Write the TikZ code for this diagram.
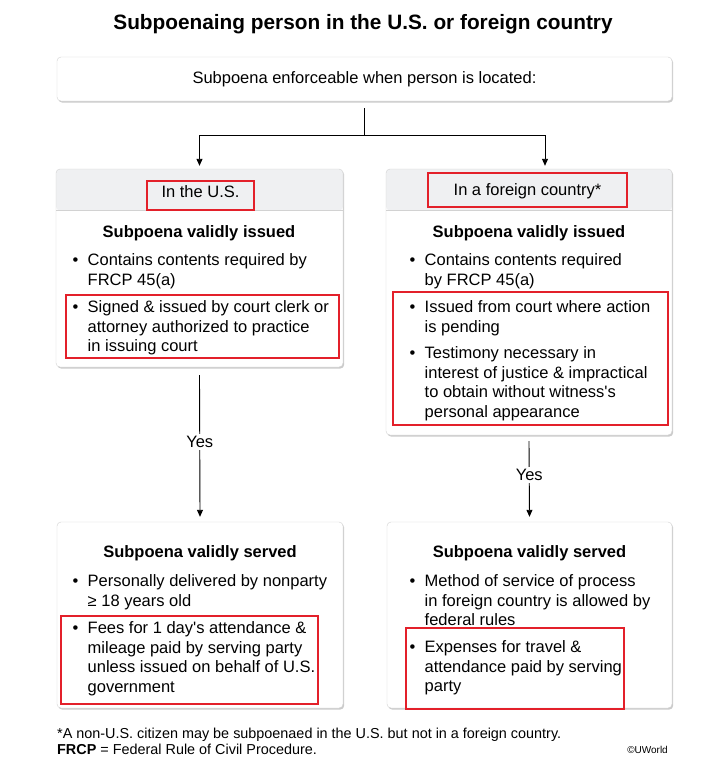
\documentclass[tikz,border=0pt]{standalone}
\usepackage{fontspec}
\setmainfont{Liberation Sans}
\usetikzlibrary{arrows.meta,shadows,positioning}

\definecolor{redframe}{HTML}{E3202A}
\definecolor{boxline}{HTML}{D2D2D2}
\definecolor{headfill}{HTML}{EFF0F2}

\newcommand{\bodyfont}{\fontsize{16.5}{19.5}\selectfont}
\newcommand{\bul}{\makebox[15pt][l]{\textbullet}}
\newcommand{\ind}{\hspace*{15pt}}

\tikzset{
  card/.style={draw=boxline, fill=white, rounded corners=4pt, inner sep=0pt,
    drop shadow={shadow xshift=1.2pt, shadow yshift=-1.6pt, fill=black!45, opacity=.45}},
  headcard/.style={card, path picture={
      \fill[headfill] (path picture bounding box.north west) rectangle
        ([yshift=-41.5pt]path picture bounding box.north east);
      \draw[boxline] ([yshift=-41.5pt]path picture bounding box.north west) --
        ([yshift=-41.5pt]path picture bounding box.north east);}},
  cardtitle/.style={anchor=base, font=\bodyfont\bfseries, inner sep=0pt},
  itemtext/.style={anchor=north west, inner sep=0pt, align=left},
  redbox/.style={draw=redframe, line width=1.5pt},
  line/.style={draw, line width=.9pt},
  arrow/.style={line, -{Triangle[length=7pt,width=6pt]}},
  yeslabel/.style={fill=white, inner sep=2pt}
}

\begin{document}
\begin{tikzpicture}[x=1pt, y=-1pt, font=\bodyfont]
  \useasboundingbox (0,0) rectangle (717,772);

  % title
  \node (title) at (363,24) {\fontsize{20.8}{24}\selectfont\bfseries Subpoenaing person in the U.S. or foreign country};

  % boxes
  \node[card, minimum width=615pt, minimum height=44pt] (top) at (364.5,79)
    {Subpoena enforceable when person is located:};
  \node[headcard, minimum width=287pt, minimum height=198pt] (us) at (199.5,268) {};
  \node[headcard, minimum width=286pt, minimum height=266pt] (foreign) at (529,302) {};
  \node[card, minimum width=286pt, minimum height=186pt] (usserved) at (200,615) {};
  \node[card, minimum width=285pt, minimum height=186pt] (foreignserved) at (529.5,615) {};

  % left column
  \node (ushead) at (200.5,192) {In the U.S.};
  \node[cardtitle] (usissued) at (199,237) {Subpoena validly issued};
  \node[itemtext] (usa) at (72.5,252) {\strut\bul Contains contents required by\\\ind FRCP 45(a)};
  \node[itemtext] (usb) at (72.5,299) {\strut\bul Signed \& issued by court clerk or\\\ind attorney authorized to practice\\\ind in issuing court};
  \node[cardtitle] (ussvd) at (200,557) {Subpoena validly served};
  \node[itemtext] (usc) at (72.5,573) {\strut\bul Personally delivered by nonparty\\\ind ≥ 18 years old};
  \node[itemtext] (usd) at (72.5,620) {\strut\bul Fees for 1 day\textquotesingle s attendance \&\\\ind mileage paid by serving party\\\ind unless issued on behalf of U.S.\\\ind government};

  % right column
  \node (fhead) at (527.5,191) {In a foreign country*};
  \node[cardtitle] (fissued) at (529,237) {Subpoena validly issued};
  \node[itemtext] (fa) at (409.5,252) {\strut\bul Contains contents required\\\ind by FRCP 45(a)};
  \node[itemtext] (fb) at (409.5,299) {\strut\bul Issued from court where action\\\ind is pending};
  \node[itemtext] (fc) at (409.5,345) {\strut\bul Testimony necessary in\\\ind interest of justice \& impractical\\\ind to obtain without witness\textquotesingle s\\\ind personal appearance};
  \node[cardtitle] (fsvd) at (529.5,557) {Subpoena validly served};
  \node[itemtext] (fd) at (409.5,573) {\strut\bul Method of service of process\\\ind in foreign country is allowed by\\\ind federal rules};
  \node[itemtext] (fe) at (409.5,639) {\strut\bul Expenses for travel \&\\\ind attendance paid by serving\\\ind party};

  % red highlight frames
  \draw[redbox] (147,181) rectangle (254,210);
  \draw[redbox] (66,295) rectangle (339,358);
  \draw[redbox] (428,173) rectangle (627,207);
  \draw[redbox] (393,292) rectangle (668,425);
  \draw[redbox] (61,616) rectangle (318,704);
  \draw[redbox] (406,628) rectangle (624,709);

  % connectors
  \coordinate (split) at (364.5,135);
  \draw[line] ([yshift=-7pt]top.south) -- (split);
  \draw[arrow] (split) -| ([yshift=3pt]us.north);
  \draw[arrow] (split) -| ([xshift=16pt,yshift=3pt]foreign.north);
  \draw[arrow] ([yshift=-8pt]us.south) -- node[yeslabel, pos=.47] {Yes} ([yshift=5pt]usserved.north);
  \draw[arrow] ([yshift=-6pt]foreign.south) -- node[yeslabel, pos=.45] {Yes} ([yshift=5pt]foreignserved.north);

  % notes
  \node[anchor=base west, inner sep=0pt, font=\fontsize{14.4}{16.5}\selectfont] (note1) at (57,738)
    {*A non-U.S. citizen may be subpoenaed in the U.S. but not in a foreign country.};
  \node[anchor=base west, inner sep=0pt, font=\fontsize{14.4}{16.5}\selectfont] (note2) at (57,754)
    {\textbf{FRCP} = Federal Rule of Civil Procedure.};
  \node[anchor=base east, inner sep=0pt, font=\fontsize{10}{12}\selectfont] (copy) at (668,753) {©UWorld};
\end{tikzpicture}
\end{document}
